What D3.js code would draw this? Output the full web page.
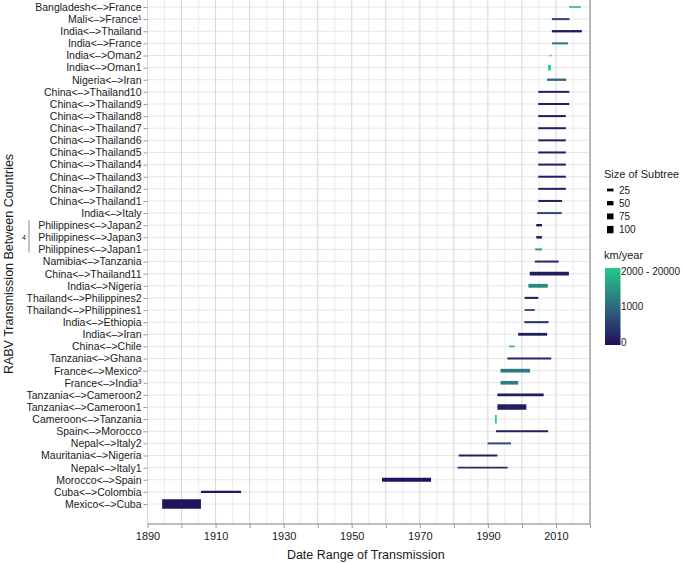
<!DOCTYPE html>
<html>
<head>
<meta charset="utf-8">
<script src="https://cdn.jsdelivr.net/npm/d3@7"></script>
<style>
  html, body { margin: 0; padding: 0; background: #fff; }
  svg { display: block; font-family: "Liberation Sans", Arial, sans-serif; }
</style>
</head>
<body>
<svg id="chart" width="685" height="563"></svg>
<script>
// ---- DATA (top row first) ----
const categories = [
  "Bangladesh<\u2013>France", "Mali<\u2013>France\u00b9", "India<\u2013>Thailand", "India<\u2013>France",
  "India<\u2013>Oman2", "India<\u2013>Oman1", "Nigeria<\u2013>Iran",
  "China<\u2013>Thailand10", "China<\u2013>Thailand9", "China<\u2013>Thailand8", "China<\u2013>Thailand7",
  "China<\u2013>Thailand6", "China<\u2013>Thailand5", "China<\u2013>Thailand4", "China<\u2013>Thailand3",
  "China<\u2013>Thailand2", "China<\u2013>Thailand1", "India<\u2013>Italy",
  "Philippines<\u2013>Japan2", "Philippines<\u2013>Japan3", "Philippines<\u2013>Japan1",
  "Namibia<\u2013>Tanzania", "China<\u2013>Thailand11", "India<\u2013>Nigeria",
  "Thailand<\u2013>Philippines2", "Thailand<\u2013>Philippines1", "India<\u2013>Ethiopia",
  "India<\u2013>Iran", "China<\u2013>Chile", "Tanzania<\u2013>Ghana",
  "France<\u2013>Mexico\u00b2", "France<\u2013>India\u00b3", "Tanzania<\u2013>Cameroon2",
  "Tanzania<\u2013>Cameroon1", "Cameroon<\u2013>Tanzania", "Spain<\u2013>Morocco",
  "Nepal<\u2013>Italy2", "Mauritania<\u2013>Nigeria", "Nepal<\u2013>Italy1",
  "Morocco<\u2013>Spain", "Cuba<\u2013>Colombia", "Mexico<\u2013>Cuba"
];
const startYear = [
  2013.9, 2008.8, 2008.8, 2008.8, 2008.2, 2007.7, 2007.4,
  2004.8, 2004.8, 2004.8, 2004.8, 2004.8, 2004.8, 2004.8, 2004.8, 2004.8, 2004.8, 2004.5,
  2004.2, 2004.2, 2003.9, 2003.8, 2002.3, 2001.9, 2000.8, 2000.8, 2000.7,
  1998.9, 1996.2, 1995.7, 1993.7, 1993.7, 1992.8, 1992.8, 1992.1, 1992.4,
  1989.9, 1981.4, 1981.1, 1958.9, 1905.7, 1894.3
];
const endYear = [
  2017.3, 2014.0, 2017.6, 2013.5, 2008.7, 2008.5, 2013.0,
  2013.9, 2013.9, 2012.9, 2012.9, 2012.9, 2012.9, 2012.9, 2012.9, 2012.9, 2011.8, 2011.7,
  2005.9, 2005.9, 2005.9, 2010.8, 2013.8, 2007.6, 2004.8, 2003.8, 2007.8,
  2007.4, 1997.9, 2008.6, 2002.4, 1998.9, 2006.4, 2001.3, 1992.6, 2007.7,
  1996.8, 1992.8, 1995.8, 1973.3, 1917.5, 1905.7
];
const subtreeSize = [
  8, 13, 18, 13, 8, 70, 18,
  13, 13, 13, 13, 13, 13, 13, 13, 13, 13, 13,
  20, 20, 13, 13, 40, 42, 16, 10, 13,
  26, 10, 13, 40, 40, 24, 70, 118, 14,
  13, 10, 10, 45, 18, 130
];
const kmPerYear = [
  2500, 600, 100, 1100, 2500, 2500, 950,
  150, 150, 150, 150, 150, 150, 150, 150, 150, 150, 650,
  100, 100, 1600, 250, 150, 1300, 300, 600, 350,
  150, 2200, 250, 1150, 1200, 150, 200, 2500, 200,
  700, 200, 350, 60, 120, 80
];
const sizeBreaks = [25, 50, 75, 100];
const colorStops = [0, 1000, 2000];
const colorLabels = ["0", "1000", "2000 - 20000"];
const xTickYears = d3.range(1890, 2021, 20);

// ---- LAYOUT ----
const svg = d3.select("#chart");
const panel = { left: 147.5, right: 590, top: 0, bottom: 524 };

const x = d3.scaleLinear().domain([1890, 2020]).range([panel.left, panel.right]);
const y = d3.scalePoint().domain(categories).range([7, 504]);
const thick = d3.scaleLinear().domain([0, 100]).range([1.2, 7.4]);
const color = d3.scaleLinear().domain(colorStops)
  .range(["#1d0f5a", "#2f6b80", "#22c98a"]).clamp(true);

const data = categories.map((c, i) => ({
  cat: c, s: startYear[i], e: endYear[i], size: subtreeSize[i], km: kmPerYear[i]
}));

// gridlines vertical
const g = svg.append("g");
d3.range(1890, 2021, 5).forEach(yr => {
  g.append("line")
    .attr("x1", x(yr)).attr("x2", x(yr))
    .attr("y1", panel.top).attr("y2", panel.bottom)
    .attr("stroke", yr % 10 === 0 ? "#d6d6d6" : "#e8e8e8")
    .attr("stroke-width", yr % 10 === 0 ? 1 : 0.8);
});
// gridlines horizontal
categories.forEach(c => {
  g.append("line")
    .attr("x1", panel.left).attr("x2", panel.right)
    .attr("y1", y(c)).attr("y2", y(c))
    .attr("stroke", "#e0e0e0").attr("stroke-width", 0.8);
});

// bars (segments)
svg.append("g").selectAll("line.seg").data(data).join("line")
  .attr("class", "seg")
  .attr("x1", d => x(d.s)).attr("x2", d => x(d.e))
  .attr("y1", d => y(d.cat)).attr("y2", d => y(d.cat))
  .attr("stroke", d => color(d.km))
  .attr("stroke-width", d => thick(d.size))
  .attr("stroke-linecap", "butt");

// right border
svg.append("line").attr("x1", panel.right).attr("x2", panel.right)
  .attr("y1", panel.top).attr("y2", panel.bottom + 1)
  .attr("stroke", "#a8a8a8").attr("stroke-width", 1.5);

const xAxis = d3.axisBottom(x)
  .tickValues(d3.range(1890, 2021, 10))
  .tickSize(4)
  .tickFormat(d => xTickYears.includes(d) ? d3.format("d")(d) : "");
const xa = svg.append("g").attr("transform", `translate(0,${panel.bottom})`).call(xAxis);
xa.select(".domain").attr("stroke", "#a8a8a8").attr("stroke-width", 1.5)
  .attr("d", `M${panel.left},0H${panel.right}`);
xa.selectAll(".tick line").attr("stroke", "#999");
xa.selectAll(".tick text").attr("font-size", "11px").attr("fill", "#1a1a1a")
  .attr("y", 8).attr("font-family", "Liberation Sans, Arial, sans-serif");

const yAxis = d3.axisLeft(y).tickSize(4).tickPadding(2);
const ya = svg.append("g").attr("transform", `translate(${panel.left},0)`).call(yAxis);
ya.select(".domain").remove();
ya.selectAll(".tick line").attr("stroke", "#999");
ya.selectAll(".tick text").attr("font-size", "10.5px").attr("fill", "#1a1a1a")
  .attr("font-family", "Liberation Sans, Arial, sans-serif");

// axis titles
svg.append("text")
  .attr("x", (panel.left + panel.right) / 2 - 3).attr("y", 559)
  .attr("text-anchor", "middle").attr("font-size", "12.5px").attr("fill", "#1a1a1a")
  .text("Date Range of Transmission");
svg.append("text")
  .attr("transform", "translate(13,264) rotate(-90)")
  .attr("text-anchor", "middle").attr("font-size", "12.5px").attr("fill", "#1a1a1a")
  .text("RABV Transmission Between Countries");

// bracket for Philippines<->Japan
const pj = categories.filter(c => c.startsWith("Philippines"));
const pjY = pj.map(c => y(c));
svg.append("line").attr("x1", 29).attr("x2", 29)
  .attr("y1", d3.min(pjY) - 5).attr("y2", d3.max(pjY) + 3)
  .attr("stroke", "#888").attr("stroke-width", 1);
svg.append("text").attr("x", 24).attr("y", d3.mean(pjY))
  .attr("dy", "0.35em").attr("text-anchor", "middle")
  .attr("font-size", "7px").attr("fill", "#1a1a1a").text("4");

// legend: size
const lg = svg.append("g");
lg.append("text").attr("x", 604).attr("y", 178).attr("font-size", "11px")
  .attr("fill", "#1a1a1a").text("Size of Subtree");
sizeBreaks.forEach((b, i) => {
  const ly = 190 + i * 13.2;
  lg.append("line").attr("x1", 607).attr("x2", 613.5)
    .attr("y1", ly).attr("y2", ly)
    .attr("stroke", "#000").attr("stroke-width", thick(b));
  lg.append("text").attr("x", 619).attr("y", ly).attr("dy", "0.35em")
    .attr("font-size", "10px").attr("fill", "#1a1a1a").text(b);
});

// legend: colour
lg.append("text").attr("x", 604).attr("y", 259).attr("font-size", "11px")
  .attr("fill", "#1a1a1a").text("km/year");
const defs = svg.append("defs");
const grad = defs.append("linearGradient").attr("id", "kmgrad")
  .attr("x1", 0).attr("x2", 0).attr("y1", 1).attr("y2", 0);
d3.range(0, 1.0001, 0.1).forEach(t => {
  grad.append("stop").attr("offset", t).attr("stop-color", color(t * 2000));
});
const cb = d3.scaleLinear().domain([0, 2000]).range([342, 271]);
lg.append("rect").attr("x", 605).attr("y", 268).attr("width", 15.5).attr("height", 77)
  .attr("fill", "url(#kmgrad)");
colorStops.forEach((v, i) => {
  lg.append("text").attr("x", 621).attr("y", cb(v)).attr("dy", "0.35em")
    .attr("font-size", "10px").attr("fill", "#1a1a1a").text(colorLabels[i]);
});
</script>
</body>
</html>
